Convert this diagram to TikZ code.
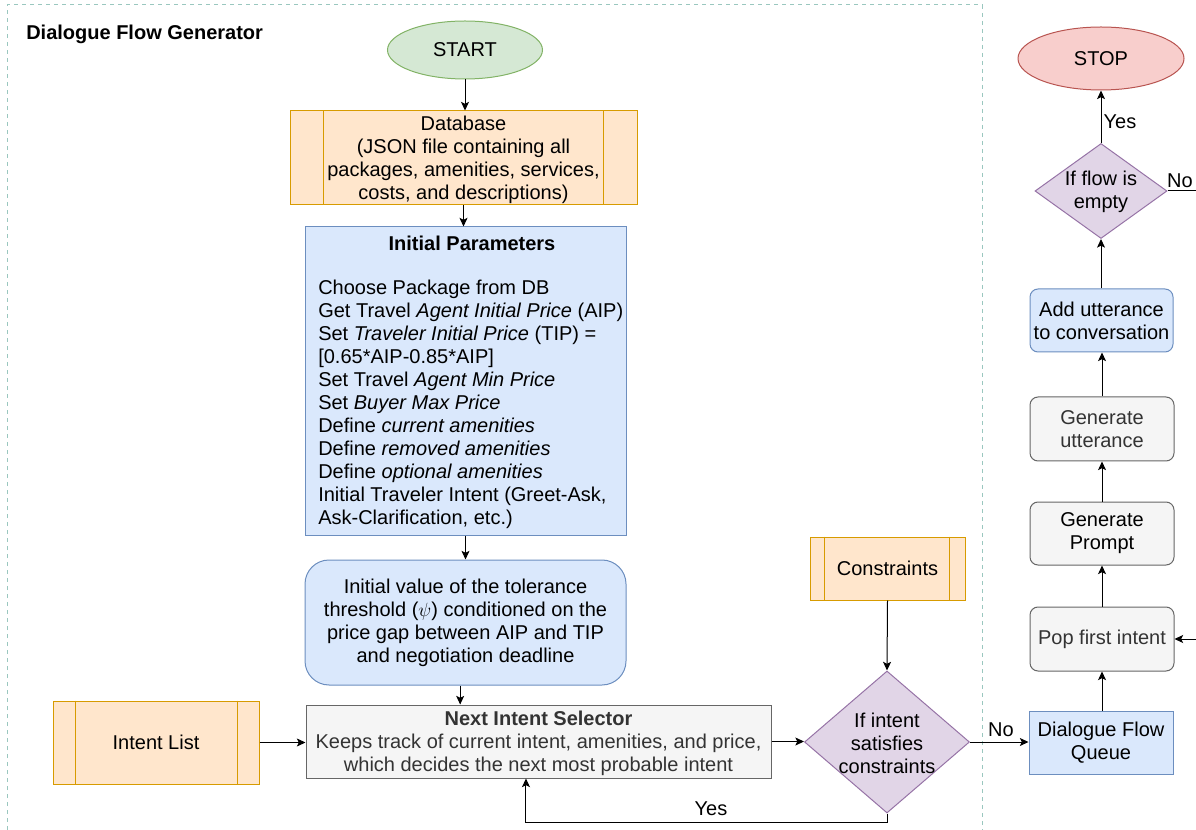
\documentclass[tikz,border=0pt]{standalone}
\usepackage{fontspec}
\setmainfont{Liberation Sans}
\usetikzlibrary{shapes.geometric,arrows.meta,calc}
\definecolor{gfill}{HTML}{D5E8D4}\definecolor{gline}{HTML}{82B366}
\definecolor{ofill}{HTML}{FFE6CC}\definecolor{oline}{HTML}{D79B00}
\definecolor{bfill}{HTML}{DAE8FC}\definecolor{bline}{HTML}{6C8EBF}
\definecolor{rfill}{HTML}{F8CECC}\definecolor{rline}{HTML}{B85450}
\definecolor{pfill}{HTML}{E1D5E7}\definecolor{pline}{HTML}{9673A6}
\definecolor{nfill}{HTML}{F5F5F5}\definecolor{nline}{HTML}{666666}
\definecolor{ntext}{HTML}{333333}
\definecolor{frame}{HTML}{9AC7BF}
\begin{document}
\begin{tikzpicture}[x=0.75pt,y=-0.75pt,
  font=\fontsize{15}{17.2}\selectfont,
  sz/.style 2 args={minimum width=#1*0.75pt,minimum height=#2*0.75pt},
  base/.style={inner sep=0pt,align=center,line width=0.75pt},
  proc/.style={base,rectangle,draw=oline,fill=ofill},
  bluebox/.style={base,rectangle,draw=bline,fill=bfill},
  graybox/.style={base,rectangle,draw=nline,fill=nfill,text=ntext},
  dia/.style={base,diamond,draw=pline,fill=pfill},
  lbl/.style={inner sep=0pt},
  arr/.style={draw=black,line width=0.75pt,-{Stealth[length=6.5pt,width=6pt,inset=1.5pt]}},
  plain/.style={draw=black,line width=0.75pt}]
\useasboundingbox (0,0) rectangle (1196,830);
% container
\draw[frame,line width=0.75pt,dash pattern=on 3pt off 3pt] (7,830) -- (7,5) -- (982,5) -- (982,830);
\node[lbl,anchor=west,font=\fontsize{15}{17.2}\selectfont\bfseries] (title) at (26,34) {Dialogue Flow Generator};

% left column
\node[base,ellipse,draw=gline,fill=gfill,sz={155}{58}] (start) at (465,50) {START};
\node[proc,sz={347}{94}] (db) at (463.5,158) {};
\node[lbl,align=center] (dbtext) at (463.5,160) {Database\\(JSON file containing all\\packages, amenities, services,\\costs, and descriptions)};
\draw[oline,line width=0.75pt] ($(db.north west)+(34,0)$) -- ($(db.south west)+(34,0)$)
  ($(db.north east)+(-34,0)$) -- ($(db.south east)+(-34,0)$);

\node[bluebox,sz={321}{308}] (ip) at (465.5,381) {};
\node[lbl,font=\fontsize{15}{17.2}\selectfont\bfseries] (iptitle) at (472,243) {Initial Parameters};
\node[lbl,anchor=north west,align=left] (iptext) at (318,280) {Choose Package from DB\\
Get Travel \textit{Agent Initial Price} (AIP)\\
Set \textit{Traveler Initial Price} (TIP) =\\
{[}0.65*AIP-0.85*AIP]\\
Set Travel \textit{Agent Min Price}\\
Set \textit{Buyer Max Price}\\
Define \textit{current amenities}\\
Define \textit{removed amenities}\\
Define \textit{optional amenities}\\
Initial Traveler Intent (Greet-Ask,\\
Ask-Clarification, etc.)};

\node[bluebox,rounded corners=18pt,sz={321}{125}] (tol) at (465.5,622.5) {Initial value of the tolerance\\threshold ($\psi$) conditioned on the\\price gap between AIP and TIP\\and negotiation deadline};

\node[graybox,sz={465}{73}] (nis) at (538.5,741.5) {};
\node[lbl,align=center,text=ntext] (nistext) at (538.5,743.5) {\textbf{Next Intent Selector}\\Keeps track of current intent, amenities, and price,\\which decides the next most probable intent};

\node[proc,sz={206}{83}] (il) at (156,742.5) {Intent List};
\draw[oline,line width=0.75pt] ($(il.north west)+(23,0)$) -- ($(il.south west)+(23,0)$)
  ($(il.north east)+(-22,0)$) -- ($(il.south east)+(-22,0)$);

\node[proc,sz={155}{63}] (cons) at (887.5,568.5) {Constraints};
\draw[oline,line width=0.75pt] ($(cons.north west)+(15,0)$) -- ($(cons.south west)+(15,0)$)
  ($(cons.north east)+(-16,0)$) -- ($(cons.south east)+(-16,0)$);

\node[dia,sz={165}{142}] (d1) at (887,742) {};
\node[lbl,align=center] (d1text) at (887,743) {If intent\\satisfies\\constraints};

% right column
\node[bluebox,sz={144}{63}] (dfq) at (1101,742.5) {Dialogue Flow\\Queue};
\node[graybox,rounded corners=6pt,sz={144}{64}] (pop) at (1102,639) {Pop first intent};
\node[graybox,text=black,rounded corners=6pt,sz={144}{63}] (prompt) at (1102,533.5) {Generate\\Prompt};
\node[graybox,rounded corners=6pt,sz={144}{64}] (utt) at (1102,429) {Generate\\utterance};
\node[bluebox,rounded corners=6pt,sz={143}{63}] (add) at (1101.5,320.5) {Add utterance\\to conversation};
\node[dia,sz={132}{95}] (d2) at (1101,191) {};
\node[lbl,align=center] (d2text) at (1101,192) {If flow is\\empty};
\node[base,ellipse,draw=rline,fill=rfill,sz={166}{63}] (stop) at (1101,58.5) {STOP};

% connectors
\draw[arr] (start.south) -- (start.south |- db.north);
\draw[arr] (db.south) -- (db.south |- ip.north);
\draw[arr] (ip.south) -- (tol.north);
\draw[arr] ([xshift=-4pt]tol.south) -- ([xshift=-4pt]tol.south |- nis.north);
\draw[arr] (il.east) -- (il.east -| nis.west);
\draw[arr] (nis.east) -- (nis.east -| d1.west);
\draw[arr] (cons.south) -- (d1.north);
\draw[arr] (d1.south) -- ++(0,9) -| ([xshift=-9.4pt]nis.south);
\node[lbl] (yes1) at (711,809) {Yes};
\draw[arr] (d1.east) -- (d1.east -| dfq.west);
\node[lbl] (no1) at (1001,730) {No};
\draw[arr] (dfq.north -| pop.north) -- (pop.south);
\coordinate (edgeA) at (1196,639);
\draw[arr] (edgeA) -- (pop.east);
\draw[arr] (pop.north) -- (prompt.south);
\draw[arr] (prompt.north) -- (utt.south);
\draw[arr] (utt.north) -- (utt.north |- add.south);
\draw[arr] (add.north -| d2.south) -- (d2.south);
\draw[arr] (d2.north) -- (stop.south);
\node[lbl] (yes2) at (1120,122) {Yes};
\coordinate (edgeB) at (1196,191);
\draw[plain] (d2.east) -- (edgeB);
\node[lbl] (no2) at (1180,181) {No};
\end{tikzpicture}
\end{document}
